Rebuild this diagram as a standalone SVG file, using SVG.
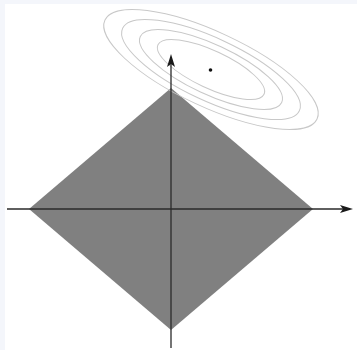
<svg xmlns="http://www.w3.org/2000/svg" width="357" height="350" viewBox="0 0 357 350">
<style>
.ax{stroke:#2a2a2a;stroke-width:1.3;fill:none}
.ah{fill:#1a1a1a}
.ct{fill:none;stroke:#c8c8c8;stroke-width:1}
</style>
<rect x="0" y="0" width="357" height="350" fill="#f4f6fb"/>
<rect x="5" y="4" width="352" height="346" fill="#ffffff"/>
<g id="diamond">
<polygon points="171,88 313,209 171,330 29,209" fill="#808080"/>
</g>
<g id="contours" transform="translate(211,69.5) rotate(25)">
<ellipse class="ct" cx="0" cy="0" rx="117" ry="37.4"/>
<ellipse class="ct" cx="0" cy="0" rx="97.5" ry="31.2"/>
<ellipse class="ct" cx="0" cy="0" rx="78" ry="24.9"/>
<ellipse class="ct" cx="0" cy="0" rx="58.5" ry="18.7"/>
</g>
<g id="optimum">
<circle cx="210.5" cy="70" r="1.8" fill="#111"/>
</g>
<g id="axes">
<line class="ax" x1="7" y1="209" x2="344" y2="209"/>
<path class="ah" d="M353,209 L340,205 L343,209 L340,213 Z"/>
<line class="ax" x1="171" y1="348" x2="171" y2="63"/>
<path class="ah" d="M171,54 L167,67 L171,64 L175,67 Z"/>
</g>
</svg>
